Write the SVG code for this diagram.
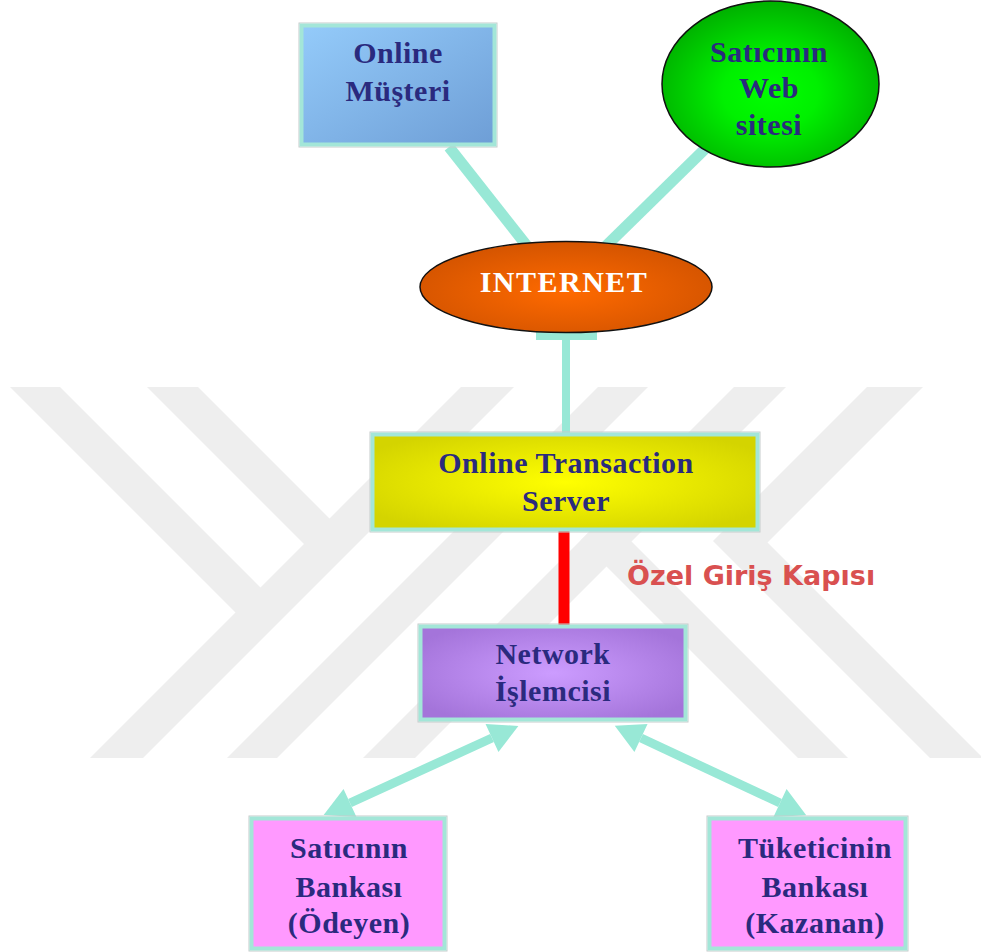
<svg xmlns="http://www.w3.org/2000/svg" width="981" height="952" viewBox="0 0 981 952">
<style>
.wm{fill:#eeeeee}
.con{stroke:#98e8d6;fill:none}
.box{stroke:#a3e6d8;stroke-width:4}
.rim{fill:none;stroke:#c6cccb;stroke-width:1}
.lbl{font-family:"Liberation Serif","Times New Roman",serif;font-size:30px;font-weight:bold;fill:#2a2a7e;text-anchor:middle;letter-spacing:0.5px}
.wht{fill:#ffffff}
.note{font-family:"DejaVu Sans",Verdana,sans-serif;font-size:27px;font-weight:bold;fill:#d95050}
</style>
<defs>
<linearGradient id="gBlue" x1="0" y1="0" x2="1" y2="1"><stop offset="0" stop-color="#94cbfa"/><stop offset="1" stop-color="#6e9ed6"/></linearGradient>
<radialGradient id="gGreen" cx="0.5" cy="0.55" r="0.55"><stop offset="0" stop-color="#00ff00"/><stop offset="0.4" stop-color="#00f000"/><stop offset="1" stop-color="#00b000"/></radialGradient>
<radialGradient id="gOrange" cx="0.5" cy="0.55" r="0.55"><stop offset="0" stop-color="#ff6a00"/><stop offset="1" stop-color="#d45400"/></radialGradient>
<radialGradient id="gYellow" cx="0.5" cy="0.5" r="0.6"><stop offset="0" stop-color="#ffff00"/><stop offset="1" stop-color="#d4d400"/></radialGradient>
<radialGradient id="gPurple" cx="0.5" cy="0.5" r="0.6"><stop offset="0" stop-color="#cc9cff"/><stop offset="1" stop-color="#a474da"/></radialGradient>
<marker id="ah" markerUnits="userSpaceOnUse" viewBox="-1 -16 31 32" refX="0" refY="0" markerWidth="31" markerHeight="32" orient="auto-start-reverse">
<path d="M0,-15.5 L29,0 L0,15.5 z" fill="#98e8d6"/>
</marker>
</defs>
<rect width="981" height="952" fill="#ffffff"/>
<g id="watermark">
<polygon class="wm" points="10,387 60,387 260.5,587.5 304,544 147,387 198,387 329.5,518.5 461,387 514,387 143,758 90,758 235.5,612.5"/>
<polygon class="wm" points="598,387 648,387 277,758 227,758"/>
<polygon class="wm" points="734,387 786,387 415,758 363,758"/>
<polygon class="wm" points="580.5,540.5 605.5,515.5 848,758 798,758"/>
<polygon class="wm" points="867,387 923,387 767.5,542.5 983,758 930,758 713,541"/>
</g>
<g id="connectors">
<line class="con" x1="449" y1="147" x2="527" y2="246" stroke-width="11"/>
<line class="con" x1="708" y1="146" x2="606" y2="246" stroke-width="11"/>
<rect x="536" y="326" width="61" height="14" fill="#98e8d6"/>
<line class="con" x1="566" y1="330" x2="566" y2="434" stroke-width="8"/>
<line x1="564" y1="530" x2="564" y2="626" stroke="#ff0000" stroke-width="11"/>
<line class="con" x1="492" y1="738" x2="350" y2="803" stroke-width="9" marker-start="url(#ah)" marker-end="url(#ah)"/>
<line class="con" x1="641" y1="738" x2="780" y2="803" stroke-width="9" marker-start="url(#ah)" marker-end="url(#ah)"/>
<text class="note" x="627" y="585">Özel Giriş Kapısı</text>
</g>
<g id="online-musteri">
<rect class="rim" x="299" y="23" width="198" height="124"/>
<rect class="box" x="301.5" y="25.5" width="193" height="119" fill="url(#gBlue)"/>
<text class="lbl" x="398" y="63">Online</text>
<text class="lbl" x="398" y="101">Müşteri</text>
</g>
<g id="satici-web">
<ellipse cx="770.5" cy="84" rx="108.5" ry="83" fill="url(#gGreen)" stroke="#111111" stroke-width="1.5"/>
<text class="lbl" x="769" y="62">Satıcının</text>
<text class="lbl" x="769" y="98">Web</text>
<text class="lbl" x="769" y="135">sitesi</text>
</g>
<g id="internet">
<ellipse cx="566" cy="287" rx="146" ry="45.5" fill="url(#gOrange)" stroke="#111111" stroke-width="1.5"/>
<text class="lbl wht" x="564" y="292" style="letter-spacing:1.5px">INTERNET</text>
</g>
<g id="server">
<rect class="rim" x="370" y="432" width="390" height="100"/>
<rect class="box" x="372.5" y="434.5" width="385" height="95" fill="url(#gYellow)"/>
<text class="lbl" x="566" y="473">Online Transaction</text>
<text class="lbl" x="566" y="511">Server</text>
</g>
<g id="network">
<rect class="rim" x="418" y="624" width="270" height="98"/>
<rect class="box" x="420.5" y="626.5" width="265" height="93" fill="url(#gPurple)"/>
<text class="lbl" x="553" y="664">Network</text>
<text class="lbl" x="553" y="701">İşlemcisi</text>
</g>
<g id="satici-banka">
<rect class="rim" x="249" y="816" width="198" height="135"/>
<rect class="box" x="251.5" y="818.5" width="193" height="130" fill="#ff99ff"/>
<text class="lbl" x="349" y="858">Satıcının</text>
<text class="lbl" x="349" y="897">Bankası</text>
<text class="lbl" x="349" y="933">(Ödeyen)</text>
</g>
<g id="tuketici-banka">
<rect class="rim" x="707" y="816" width="201" height="135"/>
<rect class="box" x="709.5" y="818.5" width="196" height="130" fill="#ff99ff"/>
<text class="lbl" x="815" y="858">Tüketicinin</text>
<text class="lbl" x="815" y="897">Bankası</text>
<text class="lbl" x="815" y="933">(Kazanan)</text>
</g>
</svg>
